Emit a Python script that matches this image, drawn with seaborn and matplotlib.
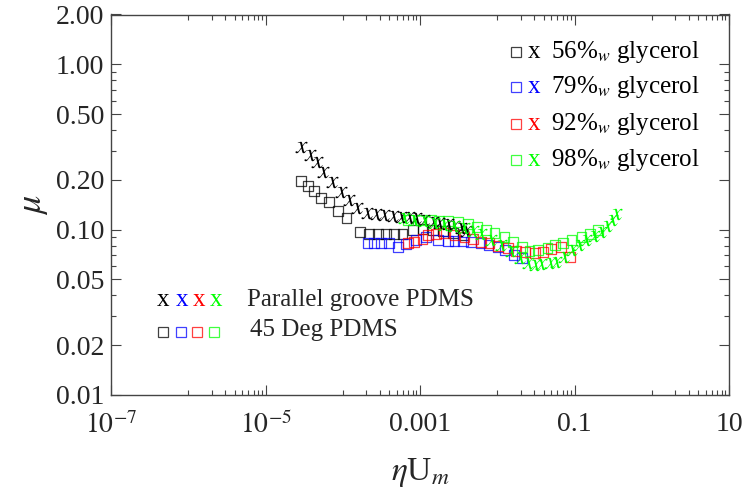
import numpy as np
import pandas as pd
import matplotlib
matplotlib.use("Agg")
import matplotlib.pyplot as plt
import matplotlib.ticker as mticker
import seaborn as sns

sns.set_theme(style="ticks")
plt.rcParams["font.family"] = ["Liberation Serif", "DejaVu Serif"]
plt.rcParams["mathtext.fontset"] = "stix"

# --- data: friction coefficient vs. eta*U_m ---
# 56 %w glycerol
sq56_x = [2.85e-5, 3.54e-5, 4.24e-5, 5.17e-5, 6.64e-5, 8.69e-5, 1.12e-4, 1.68e-4, 2.2e-4,
          2.83e-4, 3.61e-4, 4.63e-4, 5.95e-4, 8.03e-4, 1.08e-3, 1.46e-3, 1.97e-3, 2.66e-3, 3.59e-3]
sq56_y = [0.1975, 0.1835, 0.171, 0.156, 0.1475, 0.130, 0.117, 0.0963, 0.0941,
          0.094, 0.094, 0.094, 0.094, 0.0995, 0.1004, 0.100, 0.098, 0.0954, 0.0927]
x56_x = [2.85e-5, 3.76e-5, 4.59e-5, 5.61e-5, 7.2e-5, 9.4e-5, 1.21e-4, 1.55e-4, 2.05e-4, 2.69e-4,
         3.43e-4, 4.41e-4, 5.66e-4, 7.26e-4, 8.87e-4, 1.14e-3, 1.46e-3, 1.78e-3, 2.29e-3, 2.79e-3,
         3.4e-3, 3.95e-3]
x56_y = [0.317, 0.282, 0.257, 0.224, 0.195, 0.169, 0.151, 0.1345, 0.1254, 0.124,
         0.1225, 0.121, 0.1197, 0.1186, 0.1183, 0.1143, 0.1117, 0.110, 0.108, 0.105,
         0.102, 0.098]

# 79 %w glycerol
sq79_x = [2.09e-4, 2.55e-4, 3.12e-4, 3.99e-4, 5.13e-4, 6.58e-4, 8.87e-4, 1.2e-3, 1.7e-3, 2.29e-3,
          2.79e-3, 3.59e-3, 4.59e-3, 6.07e-3, 7.71e-3, 1.02e-2, 1.27e-2, 1.63e-2, 2.09e-2]
sq79_y = [0.0827, 0.0827, 0.0827, 0.0827, 0.0782, 0.0818, 0.0865, 0.0898, 0.0865, 0.0853,
          0.0853, 0.0847, 0.0841, 0.0827, 0.0807, 0.0788, 0.0753, 0.0702, 0.0671]

# 92 %w glycerol
sq92_x = [6.92e-4, 8.43e-4, 1.08e-3, 1.26e-3, 1.61e-3, 2.07e-3, 2.79e-3, 3.76e-3, 4.83e-3, 6.2e-3,
          7.94e-3, 1.02e-2, 1.38e-2, 1.77e-2, 2.26e-2, 3.05e-2, 3.93e-2, 5.02e-2, 6.64e-2, 8.69e-2]
sq92_y = [0.0833, 0.0845, 0.0874, 0.0928, 0.0941, 0.095, 0.0928, 0.0906, 0.0874, 0.0845,
          0.0827, 0.0796, 0.0771, 0.0746, 0.0735, 0.0725, 0.0735, 0.076, 0.0788, 0.0686]

# 98 %w glycerol
sq98_x = [6.92e-4, 1.03e-3, 1.39e-3, 1.78e-3, 2.29e-3, 3.09e-3, 4.16e-3, 5.5e-3, 7.19e-3, 9.23e-3,
          1.24e-2, 1.6e-2, 2.09e-2, 2.62e-2, 3.38e-2, 4.46e-2, 5.55e-2, 7.13e-2, 9.14e-2, 0.123,
          0.158, 0.203]
sq98_y = [0.1143, 0.1143, 0.1143, 0.1132, 0.1132, 0.1116, 0.1081, 0.1041, 0.0995, 0.095,
          0.0906, 0.0845, 0.0788, 0.0746, 0.0753, 0.0771, 0.0807, 0.0827, 0.0865, 0.0906,
          0.0941, 0.0995]
x98_x = [6.25e-4, 8.36e-4, 1.13e-3, 1.52e-3, 2.05e-3, 2.77e-3, 3.72e-3, 4.88e-3, 6.2e-3, 8.36e-3,
         1.13e-2, 1.52e-2, 1.99e-2, 2.51e-2, 3.05e-2, 3.72e-2, 4.77e-2, 5.83e-2, 7.41e-2, 9.42e-2,
         0.116, 0.143, 0.177, 0.218, 0.261, 0.303, 0.34]
x98_y = [0.117, 0.1143, 0.1127, 0.1096, 0.1073, 0.1051, 0.1022, 0.098, 0.0941, 0.0865,
         0.0807, 0.0742, 0.0674, 0.0626, 0.0611, 0.0619, 0.0626, 0.064, 0.0683, 0.0753,
         0.0807, 0.0865, 0.0915, 0.0967, 0.1051, 0.1143, 0.1243]

glycerol_labels = ["56", "79", "92", "98"]
series_colors = ["black", "blue", "red", "#00ff00"]

x_ticks = [1e-7, 1e-5, 1e-3, 1e-1, 10]
x_ticklabels = [r"$10^{-7}$", r"$10^{-5}$", "0.001", "0.1", "10"]
y_ticks = [0.01, 0.02, 0.05, 0.1, 0.2, 0.5, 1.0, 2.0]
y_ticklabels = ["0.01", "0.02", "0.05", "0.10", "0.20", "0.50", "1.00", "2.00"]

W, H = 748, 497
fig = plt.figure(figsize=(W / 100, H / 100), dpi=100)
ax = fig.add_axes([111 / W, 1 - 395 / H, (729 - 111) / W, (395 - 14.5) / H])

sq_kw = dict(marker="s", s=50, facecolor="none", linewidth=0.9, alpha=0.75, legend=False)
x_kw = dict(marker=r"$x$", s=75, linewidth=0, legend=False)

for xs, ys, c in [(sq56_x, sq56_y, "black"), (sq79_x, sq79_y, "blue"),
                  (sq92_x, sq92_y, "red"), (sq98_x, sq98_y, "#00ff00")]:
    sns.scatterplot(x=xs, y=ys, ax=ax, edgecolor=c, **sq_kw)
for xs, ys, c in [(x56_x, x56_y, "black"), (x98_x, x98_y, "#00ff00")]:
    sns.scatterplot(x=xs, y=ys, ax=ax, color=c, **x_kw)

ax.set_xscale("log")
ax.set_yscale("log")
ax.set_xlim(1e-7, 10)
ax.set_ylim(0.01, 2.0)

ax.xaxis.set_major_locator(mticker.FixedLocator(x_ticks))
ax.xaxis.set_major_formatter(mticker.FixedFormatter(x_ticklabels))
x_minor = [m * 10.0 ** k for k in (-6, -4, -2, 0) for m in range(1, 10)]
ax.xaxis.set_minor_locator(mticker.FixedLocator(x_minor))
ax.xaxis.set_minor_formatter(mticker.NullFormatter())

ax.yaxis.set_major_locator(mticker.FixedLocator(y_ticks))
ax.yaxis.set_major_formatter(mticker.FixedFormatter(y_ticklabels))
y_minor = [0.03, 0.04, 0.06, 0.07, 0.08, 0.09, 0.3, 0.4, 0.6, 0.7, 0.8, 0.9]
ax.yaxis.set_minor_locator(mticker.FixedLocator(y_minor))
ax.yaxis.set_minor_formatter(mticker.NullFormatter())

ax.tick_params(which="both", direction="in", top=True, right=True, color="#444444",
               width=0.8, labelsize=20)
ax.tick_params(axis="x", pad=12)
ax.tick_params(axis="y", pad=5)
ax.tick_params(which="major", length=7)
ax.tick_params(which="minor", length=3.5)
for sp in ax.spines.values():
    sp.set_color("#444444")
    sp.set_linewidth(1.0)

ax.set_xlabel(r"$\eta$U$_m$", fontsize=24, labelpad=12)
ax.set_ylabel(r"$\mu$", fontsize=26, labelpad=4)

# legend: glycerol concentration (top right)
row_y = [51.7, 87.3, 124, 160]
for yy, lab, c in zip(row_y, glycerol_labels, series_colors):
    ya = 1 - (yy - 14.5) / (395 - 14.5)
    ax.plot([(516 - 111) / 618], [ya], transform=ax.transAxes, marker="s", ms=6.5,
            mfc="none", mec=c, mew=0.9, alpha=0.75, clip_on=False)
    ax.text((534 - 111) / 618, ya, "x", color=c, transform=ax.transAxes, fontsize=18,
            ha="center", va="center")
    ax.text((551 - 111) / 618, ya, lab + r"%$_w$ glycerol", color="black",
            transform=ax.transAxes, fontsize=18, ha="left", va="center")

# legend: surface type (bottom left)
for xx, c in zip([163.3, 181.7, 199, 216], series_colors):
    ax.text((xx - 111) / 618, 1 - (300 - 14.5) / 380.5, "x", color=c, transform=ax.transAxes,
            fontsize=18, ha="center", va="center")
for xx, c in zip([163.3, 180.7, 197.3, 214], series_colors):
    ax.plot([(xx - 111) / 618], [1 - (332.3 - 14.5) / 380.5], transform=ax.transAxes,
            marker="s", ms=6.5, mfc="none", mec=c, mew=0.9, alpha=0.75)
ax.text((247 - 111) / 618, 1 - (300 - 14.5) / 380.5, "Parallel groove PDMS",
        transform=ax.transAxes, fontsize=18, ha="left", va="center")
ax.text((250 - 111) / 618, 1 - (330 - 14.5) / 380.5, "45 Deg PDMS",
        transform=ax.transAxes, fontsize=18, ha="left", va="center")

fig.savefig("out.png", dpi=100)
